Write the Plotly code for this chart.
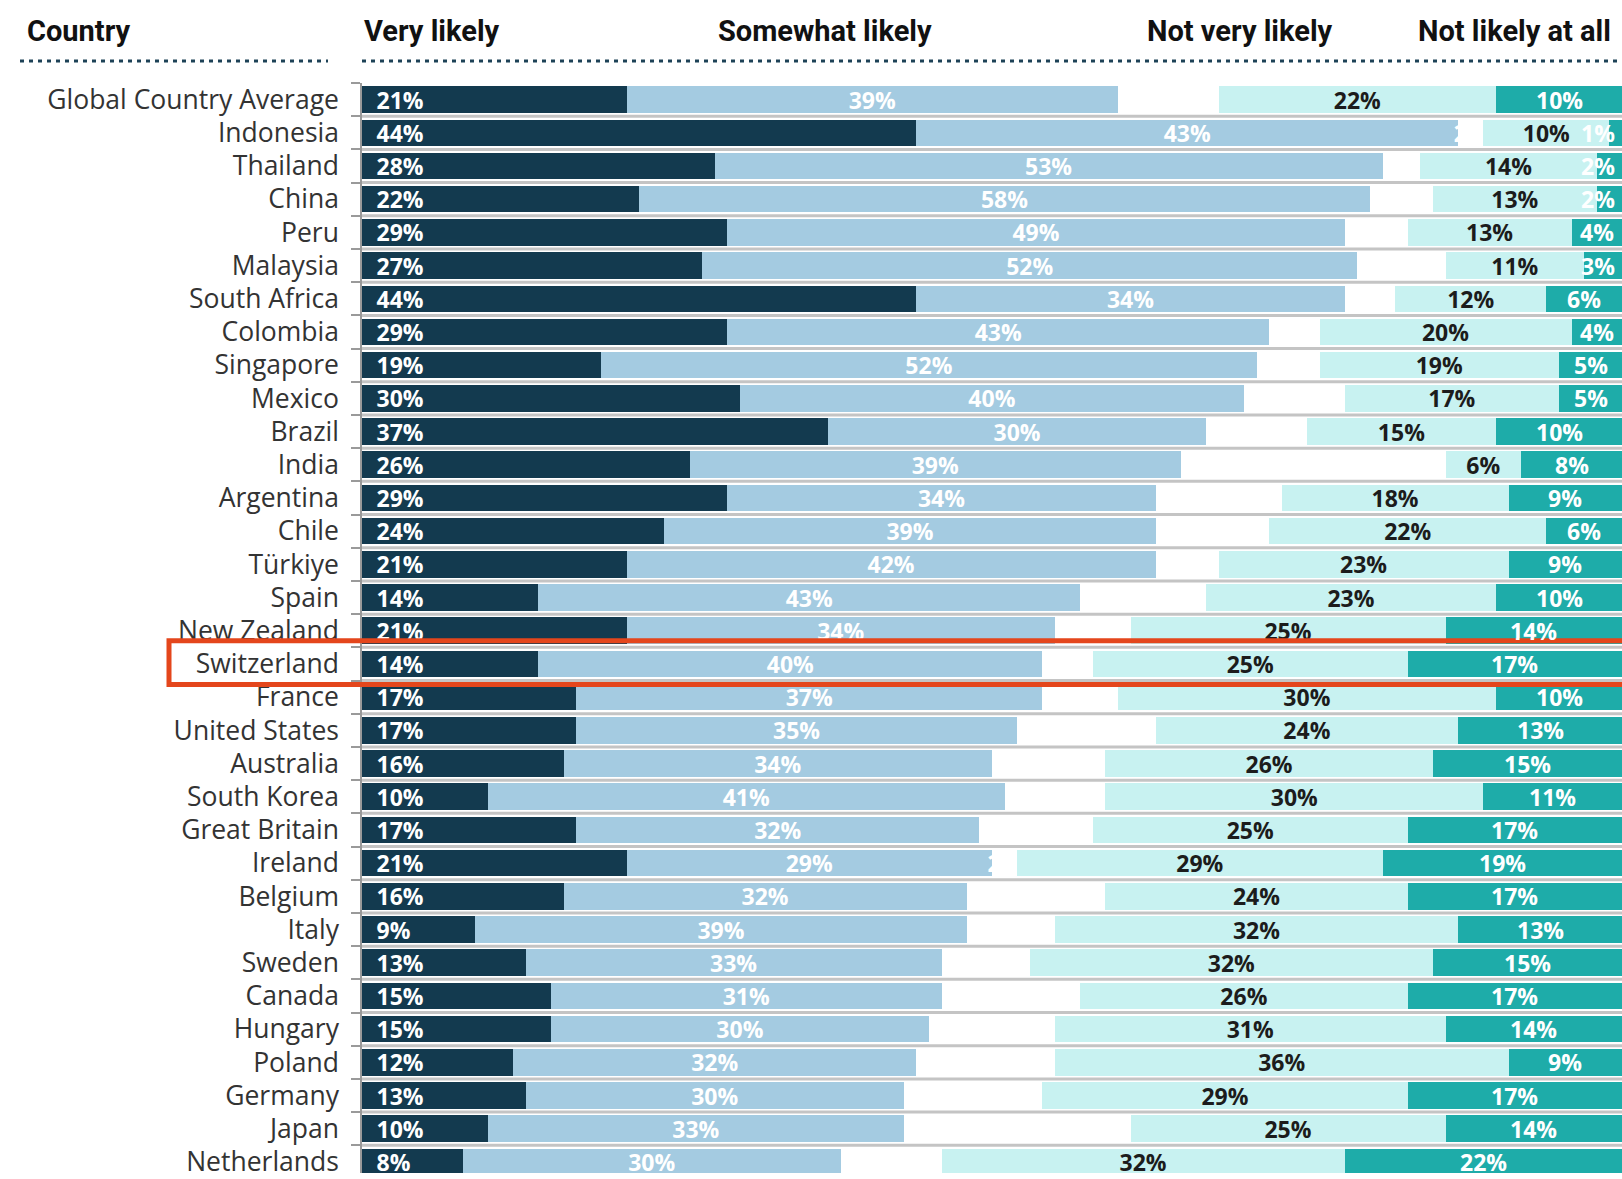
import plotly.graph_objects as go

countries = [
    "Global Country Average", "Indonesia", "Thailand", "China", "Peru", "Malaysia",
    "South Africa", "Colombia", "Singapore", "Mexico", "Brazil", "India", "Argentina",
    "Chile", "Türkiye", "Spain", "New Zealand", "Switzerland", "France", "United States",
    "Australia", "South Korea", "Great Britain", "Ireland", "Belgium", "Italy", "Sweden",
    "Canada", "Hungary", "Poland", "Germany", "Japan", "Netherlands",
]
very_likely = [21, 44, 28, 22, 29, 27, 44, 29, 19, 30, 37, 26, 29, 24, 21, 14, 21, 14,
               17, 17, 16, 10, 17, 21, 16, 9, 13, 15, 15, 12, 13, 10, 8]
somewhat_likely = [39, 43, 53, 58, 49, 52, 34, 43, 52, 40, 30, 39, 34, 39, 42, 43, 34, 40,
                   37, 35, 34, 41, 32, 29, 32, 39, 33, 31, 30, 32, 30, 33, 30]
dont_know = [8, 2, 3, 5, 5, 7, 4, 4, 5, 8, 8, 21, 10, 9, 5, 10, 6, 4,
             6, 11, 9, 8, 9, 2, 11, 7, 7, 11, 10, 11, 11, 18, 8]
not_very_likely = [22, 10, 14, 13, 13, 11, 12, 20, 19, 17, 15, 6, 18, 22, 23, 23, 25, 25,
                   30, 24, 26, 30, 25, 29, 24, 32, 32, 26, 31, 36, 29, 25, 32]
not_likely_at_all = [10, 1, 2, 2, 4, 3, 6, 4, 5, 5, 10, 8, 9, 6, 9, 10, 14, 17,
                     10, 13, 15, 11, 17, 19, 17, 13, 15, 17, 14, 9, 17, 14, 22]

column_headers = ["Country", "Very likely", "Somewhat likely", "Not very likely", "Not likely at all"]
highlight = "Switzerland"

NAVY = "#133a4f"
LIGHT = "#a4cbe1"
CYAN = "#c8f2f1"
TEAL = "#1eaca9"

W, H = 1622, 1179
ML, MT = 362, 83
PW, PH = W - ML, H - MT
ROW = 33.38
LABEL_FONT = "Open Sans"
LABEL_SIZE = 23

fig = go.Figure()

series = [
    (column_headers[1], very_likely, NAVY, "white", "start", "\u2002%{x}%"),
    (column_headers[2], somewhat_likely, LIGHT, "white", "middle", "%{x}%"),
    ("Don't know", dont_know, "white", "white", "middle", "%{x}%"),
    (column_headers[3], not_very_likely, CYAN, "#1c1c1c", "middle", "%{x}%"),
    (column_headers[4], not_likely_at_all, TEAL, "white", "middle", None),
]
for name, vals, color, tcolor, anchor, tmpl in series:
    if tmpl is not None:
        kw = dict(texttemplate=tmpl, textposition="inside", insidetextanchor=anchor,
                  textangle=0, constraintext="none",
                  textfont=dict(family=LABEL_FONT, size=LABEL_SIZE, color=tcolor, weight=700))
    else:
        kw = dict(textposition="none")
    fig.add_trace(go.Bar(
        name=name, y=countries, x=vals, orientation="h",
        marker=dict(color=color, line=dict(width=0)),
        hoverinfo="skip", **kw,
    ))

n = len(countries)
shapes = []
for i in range(n - 1):
    shapes.append(dict(type="line", xref="paper", yref="y", x0=0, x1=1,
                       y0=i + 0.5, y1=i + 0.5, line=dict(color="#c4c4c4", width=3)))


def px_x(p):
    return (p - ML) / PW


def px_y(p):
    return (H - p) / PH


shapes.append(dict(type="line", xref="paper", yref="paper", x0=px_x(20), x1=px_x(328),
                   y0=px_y(61), y1=px_y(61), line=dict(color="#1d4257", width=3, dash="4px,5px")))
shapes.append(dict(type="line", xref="paper", yref="paper", x0=0, x1=1,
                   y0=px_y(61), y1=px_y(61), line=dict(color="#1d4257", width=3, dash="4px,5px")))

hi = countries.index(highlight)
shapes.append(dict(type="rect", xref="paper", yref="y", x0=px_x(169), x1=1.02,
                   y0=hi - 0.70, y1=hi + 0.62, line=dict(color="#e4461c", width=5),
                   fillcolor="rgba(0,0,0,0)"))

annotations = []
# "Not likely at all" labels: centred in the segment, kept inside the chart edge
for c, v in zip(countries, not_likely_at_all):
    annotations.append(dict(
        x=min(100 - v / 2, 98.1), y=c, xref="x", yref="y", text=f"{v}%",
        showarrow=False, xanchor="center", yanchor="middle",
        font=dict(family=LABEL_FONT, size=LABEL_SIZE, color="white", weight=700),
    ))

hfont = dict(family="Roboto", size=29, color="#111111", weight=700)
headers = [
    dict(text=column_headers[0], x=px_x(25), xanchor="left"),
    dict(text=column_headers[1], x=0, xanchor="left"),
    dict(text=column_headers[2], x=px_x(825), xanchor="center"),
    dict(text=column_headers[3], x=px_x(1240), xanchor="center"),
    dict(text=column_headers[4], x=px_x(1613), xanchor="right"),
]
for a in headers:
    a.update(xref="paper", yref="paper", y=px_y(31), yanchor="middle",
             showarrow=False, font=hfont)
annotations += headers

fig.update_layout(
    width=W, height=H, barmode="stack", bargap=0.2,
    margin=dict(l=ML, r=0, t=MT, b=0, pad=0),
    plot_bgcolor="white", paper_bgcolor="white",
    showlegend=False, hovermode=False,
    shapes=shapes, annotations=annotations,
    xaxis=dict(range=[0, 100], visible=False, fixedrange=True),
    yaxis=dict(type="category", categoryorder="array", categoryarray=countries,
               range=[PH / ROW - 0.5, -0.5],
               showline=True, linecolor="#9a9a9a", linewidth=1.5,
               ticks="outside", tickson="boundaries", ticklen=9, tickcolor="#9a9a9a", tickwidth=1.5,
               ticklabelstandoff=16, showgrid=False, zeroline=False,
               tickfont=dict(family="Open Sans", size=26.5, color="#333333"), fixedrange=True),
)

fig.write_html("out.html", config={"displayModeBar": False},
               post_script="document.body.style.margin='0';document.body.style.overflow='hidden';")
